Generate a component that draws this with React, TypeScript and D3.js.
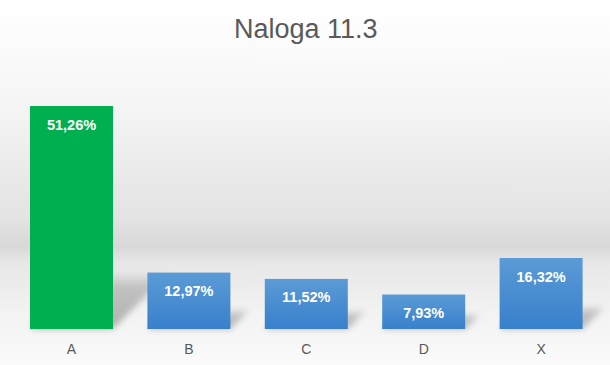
import React from "react";
import * as d3 from "d3";

const categories = ["A", "B", "C", "D", "X"];
const values = [51.26, 12.97, 11.52, 7.93, 16.32];
const valueLabels = ["51,26%", "12,97%", "11,52%", "7,93%", "16,32%"];
const title = "Naloga 11.3";

const W = 610;
const H = 365;

export default function App() {
  const x = d3.scaleBand<string>().domain(categories).range([12.8, 599.8]).paddingInner(0.293).paddingOuter(0.1465);
  const y = d3.scaleLinear().domain([0, 60]).range([329, 68]);
  const y0 = y(0);

  return (
    <svg width={W} height={H} style={{ position: "fixed", left: 0, top: 0, display: "block" }}>
      <defs>
        <linearGradient id="bg" x1="0" y1="0" x2="0" y2="1">
          <stop offset="0" stopColor="#ffffff" />
          <stop offset="0.25" stopColor="#f7f7f7" />
          <stop offset="0.6" stopColor="#e3e3e3" />
          <stop offset="0.675" stopColor="#d8d8d8" />
          <stop offset="0.72" stopColor="#e7e7e7" />
          <stop offset="0.85" stopColor="#f2f2f2" />
          <stop offset="1" stopColor="#fbfbfb" />
        </linearGradient>
        <linearGradient id="blue" x1="0" y1="0" x2="0" y2="1">
          <stop offset="0" stopColor="#5b9bd6" />
          <stop offset="1" stopColor="#3880cc" />
        </linearGradient>
        <linearGradient id="shade" x1="0" y1="1" x2="0" y2="0">
          <stop offset="0" stopColor="#000" stopOpacity="0.28" />
          <stop offset="0.75" stopColor="#000" stopOpacity="0.18" />
          <stop offset="1" stopColor="#000" stopOpacity="0" />
        </linearGradient>
        <filter id="blur" x="-50%" y="-50%" width="200%" height="200%">
          <feGaussianBlur stdDeviation="3" />
        </filter>
      </defs>
      <rect x={0} y={0} width={W} height={H} fill="url(#bg)" />
      <text x={305.7} y={37.7} textAnchor="middle" fontFamily="'Liberation Sans', Arial, sans-serif" fontSize={27} fill="#595959">
        {title}
      </text>
      <g>
        {categories.map((c, i) => {
          const bx = x(c)!;
          const bw = x.bandwidth();
          const top = y(values[i]);
          const h = y0 - top;
          const sh = h * 0.22 + 8;
          const dx = sh * 1.0;
          const pts = [
            [bx, y0],
            [bx + bw, y0],
            [bx + bw + dx, y0 - sh],
            [bx + dx, y0 - sh],
          ];
          return (
            <polygon key={"s" + c} points={pts.map((p) => p.join(",")).join(" ")} fill="url(#shade)" filter="url(#blur)" />
          );
        })}
      </g>
      {categories.map((c, i) => {
        const bx = x(c)!;
        const bw = x.bandwidth();
        const top = y(values[i]);
        return (
          <g key={c}>
            <rect x={bx} y={top} width={bw} height={y0 - top} fill={i === 0 ? "#00b050" : "url(#blue)"} />
            <text x={bx + bw / 2} y={top + 23.5} textAnchor="middle" fontFamily="'Liberation Sans', Arial, sans-serif" fontWeight="bold" fontSize={14.5} fill="#ffffff">
              {valueLabels[i]}
            </text>
            <text x={bx + bw / 2} y={353.5} textAnchor="middle" fontFamily="'Liberation Sans', Arial, sans-serif" fontSize={14} fill="#595959">
              {c}
            </text>
          </g>
        );
      })}
    </svg>
  );
}
